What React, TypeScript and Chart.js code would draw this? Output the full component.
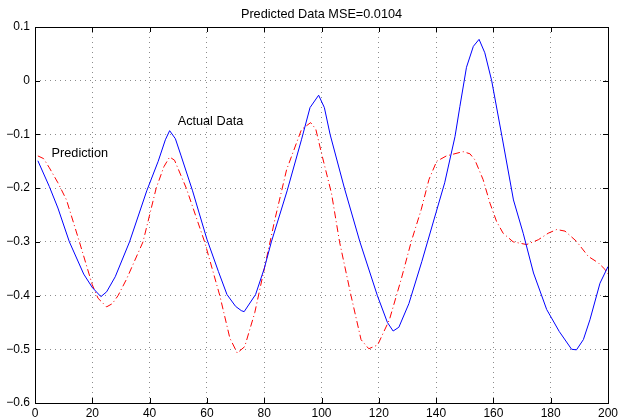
import React, { useEffect, useRef } from "react";
import { Chart, registerables } from "chart.js";

Chart.register(...registerables);

const titleText = "Predicted Data MSE=0.0104";
const actualLabel = "Actual Data";
const predictionLabel = "Prediction";

const actualX = [1, 5, 8, 12, 17, 20, 23, 25, 28, 33, 39, 43, 45.5, 47, 49, 51, 55, 60, 64, 67, 70, 72, 73, 77, 80, 82.5, 88, 93, 96, 99, 101, 103, 108, 113.4, 119.5, 123, 125, 127, 130.5, 135, 140, 143, 146.6, 148.3, 150.6, 153, 155, 157, 159.4, 163, 167, 170.4, 174, 178.6, 183, 187.3, 189, 191.4, 193.7, 197.2, 200];
const actualY = [-0.149, -0.197, -0.237, -0.3, -0.36, -0.385, -0.402, -0.393, -0.365, -0.3, -0.205, -0.15, -0.11, -0.093, -0.108, -0.14, -0.205, -0.295, -0.355, -0.398, -0.42, -0.428, -0.43, -0.398, -0.35, -0.3, -0.205, -0.11, -0.05, -0.027, -0.05, -0.1, -0.2, -0.3, -0.4, -0.45, -0.466, -0.459, -0.415, -0.337, -0.245, -0.19, -0.104, -0.048, 0.025, 0.064, 0.077, 0.052, 0.0, -0.104, -0.222, -0.284, -0.358, -0.426, -0.467, -0.5, -0.501, -0.482, -0.445, -0.377, -0.346];

const predX = [1, 3, 5, 8, 11, 15.5, 20, 22, 25, 27, 29, 31.9, 37.7, 42.3, 45, 47, 48.7, 52.8, 59.2, 64.5, 68, 70.6, 73.2, 76.7, 80.2, 83.7, 87.8, 93, 96.2, 98, 100, 103.5, 106.3, 110.3, 113.8, 116.5, 119.6, 123.7, 127.8, 131.3, 134.8, 137.5, 140.2, 143.6, 149.4, 151.8, 153.5, 156.4, 158.8, 161.1, 163.4, 166.9, 171.6, 175.7, 179.1, 182.1, 185, 189, 193.1, 196.6, 198.9, 200];
const predY = [-0.14, -0.145, -0.162, -0.19, -0.222, -0.3, -0.38, -0.405, -0.421, -0.415, -0.4, -0.37, -0.3, -0.2, -0.16, -0.142, -0.148, -0.2, -0.3, -0.4, -0.479, -0.507, -0.495, -0.432, -0.346, -0.259, -0.166, -0.091, -0.078, -0.09, -0.135, -0.21, -0.3, -0.4, -0.482, -0.499, -0.492, -0.445, -0.37, -0.3, -0.24, -0.184, -0.15, -0.14, -0.132, -0.136, -0.147, -0.184, -0.228, -0.262, -0.284, -0.3, -0.305, -0.296, -0.284, -0.277, -0.28, -0.299, -0.327, -0.339, -0.351, -0.36];

const xTicks = [0, 20, 40, 60, 80, 100, 120, 140, 160, 180, 200];
const yTicks = [0.1, 0, -0.1, -0.2, -0.3, -0.4, -0.5, -0.6];

const FONT = "'Liberation Sans', Arial, Helvetica, sans-serif";

const fmt = (v: number) => {
  const r = Math.round(v * 10) / 10;
  if (r === 0) return "0";
  const s = Math.abs(r).toString();
  return r < 0 ? "\u2212" + s : s;
};

const decorPlugin = {
  id: "matlabDecor",
  afterDraw(chart: any) {
    const { ctx, chartArea } = chart;
    const xs = chart.scales.x;
    const ys = chart.scales.y;
    const { left, right, top, bottom } = chartArea;
    ctx.save();
    ctx.strokeStyle = "#000";
    ctx.lineWidth = 1;
    ctx.setLineDash([]);
    ctx.strokeRect(Math.round(left) + 0.5, Math.round(top) + 0.5, Math.round(right - left), Math.round(bottom - top));
    const tl = 5;
    ctx.beginPath();
    for (const v of xTicks) {
      const px = Math.round(xs.getPixelForValue(v)) + 0.5;
      ctx.moveTo(px, bottom);
      ctx.lineTo(px, bottom - tl);
      ctx.moveTo(px, top);
      ctx.lineTo(px, top + tl);
    }
    for (const v of yTicks) {
      const py = Math.round(ys.getPixelForValue(v)) + 0.5;
      ctx.moveTo(left, py);
      ctx.lineTo(left + tl, py);
      ctx.moveTo(right, py);
      ctx.lineTo(right - tl, py);
    }
    ctx.stroke();
    ctx.fillStyle = "#000";
    ctx.font = `12.7px ${FONT}`;
    ctx.textAlign = "center";
    ctx.textBaseline = "middle";
    ctx.fillText(titleText, (left + right) / 2, 14);
    ctx.textAlign = "left";
    ctx.fillText(actualLabel, xs.getPixelForValue(49.8), ys.getPixelForValue(-0.075));
    ctx.fillText(predictionLabel, xs.getPixelForValue(5.8), ys.getPixelForValue(-0.136));
    ctx.restore();
  },
};

export default function App() {
  const ref = useRef<HTMLCanvasElement | null>(null);
  useEffect(() => {
    document.body.style.margin = "0";
    const canvas = ref.current;
    if (!canvas) return;
    const chart = new Chart(canvas, {
      type: "line",
      data: {
        datasets: [
          {
            label: actualLabel,
            data: actualX.map((x, i) => ({ x, y: actualY[i] })),
            borderColor: "#0000ff",
            borderWidth: 1,
            pointRadius: 0,
            tension: 0,
            fill: false,
          },
          {
            label: predictionLabel,
            data: predX.map((x, i) => ({ x, y: predY[i] })),
            borderColor: "#ff0000",
            borderWidth: 1,
            borderDash: [7, 3, 1, 3],
            pointRadius: 0,
            tension: 0,
            fill: false,
          },
        ],
      },
      options: {
        animation: false,
        responsive: false,
        maintainAspectRatio: false,
        layout: { padding: { top: 27, right: 10, left: 0, bottom: 0 } },
        plugins: {
          legend: { display: false },
          title: { display: false },
          tooltip: { enabled: false },
        },
        scales: {
          x: {
            type: "linear",
            min: 0,
            max: 200,
            afterBuildTicks: (s: any) => {
              s.ticks = xTicks.map((v) => ({ value: v }));
            },
            afterFit: (s: any) => {
              s.height = 16;
              s.paddingLeft = 0;
              s.paddingRight = 0;
            },
            grid: {
              color: "rgba(0,0,0,0.45)",
              lineWidth: 1,
              drawTicks: false,
            },
            border: { display: false, dash: [1, 4] },
            ticks: {
              color: "#000",
              padding: 3,
              maxRotation: 0,
              autoSkip: false,
              font: { family: FONT, size: 12 },
              callback: (v: any) => String(v),
            },
          },
          y: {
            type: "linear",
            min: -0.6,
            max: 0.1,
            afterBuildTicks: (s: any) => {
              s.ticks = yTicks.map((v) => ({ value: v }));
            },
            afterFit: (s: any) => {
              s.width = 35;
              s.paddingTop = 0;
              s.paddingBottom = 0;
            },
            grid: {
              color: "rgba(0,0,0,0.45)",
              lineWidth: 1,
              drawTicks: false,
            },
            border: { display: false, dash: [1, 4] },
            ticks: {
              color: "#000",
              padding: 5,
              autoSkip: false,
              font: { family: FONT, size: 12 },
              callback: (v: any) => fmt(Number(v)),
            },
          },
        },
      },
      plugins: [decorPlugin],
    });
    return () => chart.destroy();
  }, []);
  return (
    <div style={{ position: "absolute", left: 0, top: 0, width: 618, height: 419, background: "#fff" }}>
      <canvas ref={ref} width={618} height={419} style={{ width: 618, height: 419 }} />
    </div>
  );
}
